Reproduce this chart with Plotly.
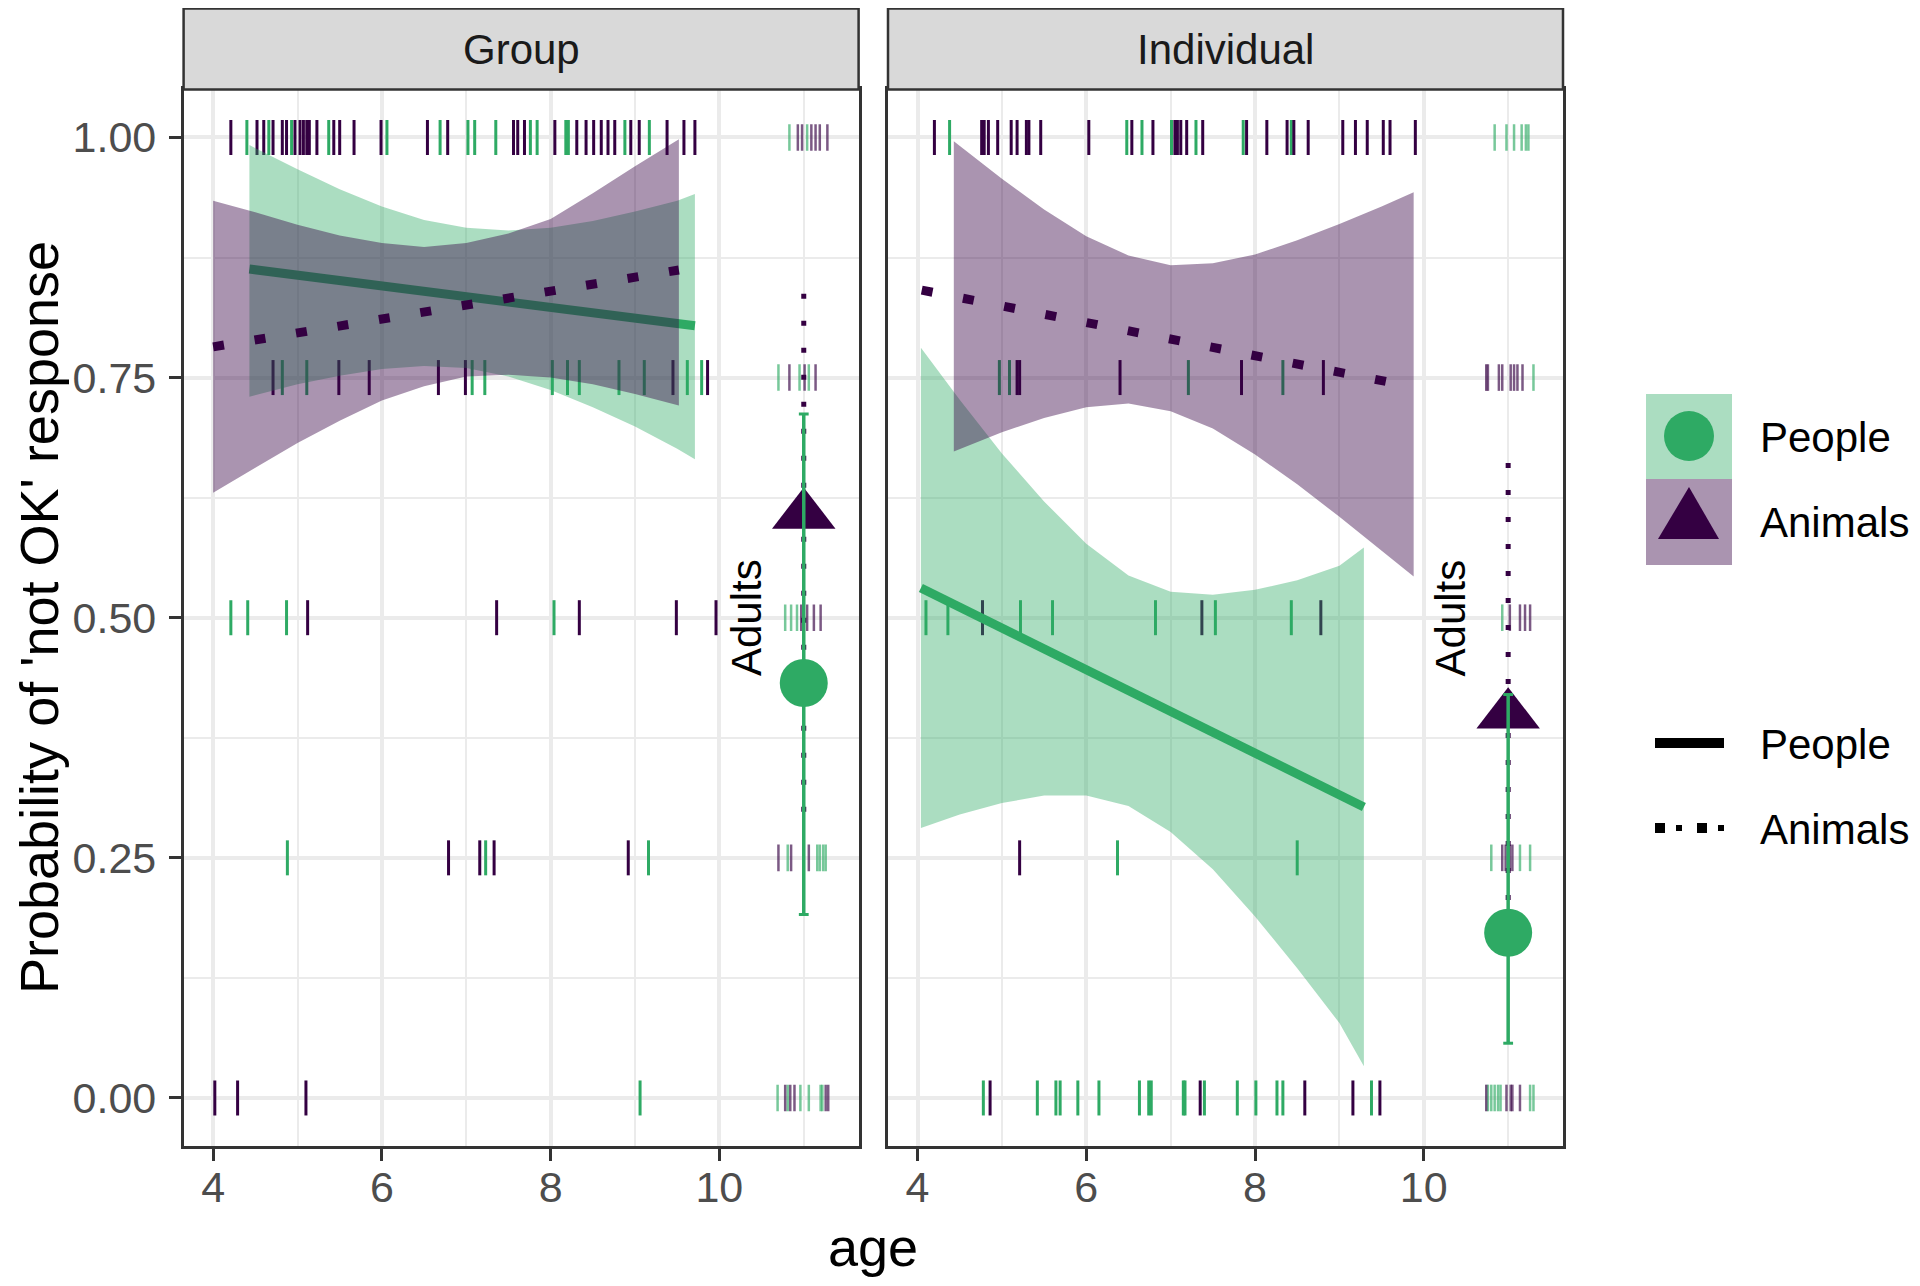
import plotly.graph_objects as go
from plotly.subplots import make_subplots

W, H = 1920, 1286
OFF = 8  # page body margin of the browser
FONT = "Liberation Sans, Arial, Helvetica, sans-serif"
GREEN = "#2EAA64"
PURPLE = "#340042"
GREEN_FILL = "rgba(46,170,100,0.40)"
PURPLE_FILL = "rgba(52,0,66,0.42)"
GREEN_ADULT = "rgba(46,170,100,0.65)"
PURPLE_ADULT = "rgba(52,0,66,0.65)"

panel_names = ["Group", "Individual"]
species_names = ["People", "Animals"]
y_ticks = [0.0, 0.25, 0.5, 0.75, 1.0]
y_labels = ["0.00", "0.25", "0.50", "0.75", "1.00"]
y_minor = [0.125, 0.375, 0.625, 0.875]
x_ticks = [4, 6, 8, 10]
x_minor = [5, 7, 9, 11]

# ---- individual responses (age positions of tick marks, by response level) ----
grp_people_child = {
    1.00: [4.40, 4.66, 4.93, 5.37, 6.06, 6.69, 7.02, 7.10, 7.35, 7.76, 7.84, 8.18, 8.21, 8.88, 9.17],
    0.75: [4.82, 5.11, 7.07, 7.22, 8.02, 8.20, 8.34, 8.81, 9.11, 9.62, 9.79],
    0.50: [4.21, 4.41, 4.87, 8.04],
    0.25: [4.88, 7.23, 9.16],
    0.00: [9.06],
}
grp_animals_child = {
    1.00: [4.21, 4.52, 4.60, 4.71, 4.82, 4.87, 4.97, 5.03, 5.07, 5.11, 5.14, 5.23, 5.43, 5.50, 5.67,
           5.99, 6.54, 6.78, 7.56, 7.61, 7.69, 8.05, 8.31, 8.42, 8.51, 8.60, 8.68, 8.76, 8.95, 9.05,
           9.38, 9.58, 9.71],
    0.75: [4.71, 5.49, 5.85, 6.67, 6.99, 9.45, 9.86],
    0.50: [5.12, 7.36, 8.34, 9.49, 9.96],
    0.25: [6.79, 7.16, 7.33, 8.92],
    0.00: [4.02, 4.29, 5.10],
}
grp_people_adult = {
    1.00: [10.83, 11.04],
    0.75: [10.70, 10.95, 11.06],
    0.50: [10.78, 10.85, 10.92],
    0.25: [10.81, 11.16, 11.19, 11.23, 11.26],
    0.00: [10.69, 10.81, 10.96, 11.06, 11.20, 11.22],
}
grp_animals_adult = {
    1.00: [10.93, 10.98, 11.09, 11.14, 11.19, 11.28],
    0.75: [10.83, 11.01, 11.14],
    0.50: [10.97, 11.04, 11.12, 11.20],
    0.25: [10.70, 10.85, 11.06],
    0.00: [10.78, 10.84, 10.89, 11.26, 11.29],
}
ind_people_child = {
    1.00: [4.38, 6.48, 6.66, 7.01, 7.30, 7.86, 8.43],
    0.75: [4.97, 5.09, 7.21, 8.33],
    0.50: [4.10, 4.36, 5.22, 5.60, 6.82, 7.53, 8.43],
    0.25: [6.37, 8.50],
    0.00: [4.78, 5.42, 5.64, 5.69, 5.90, 6.15, 6.63, 6.74, 6.77, 7.15, 7.17, 7.40, 7.79, 8.01,
           8.26, 8.33, 9.38],
}
ind_animals_child = {
    1.00: [4.20, 4.76, 4.79, 4.84, 4.95, 5.11, 5.18, 5.29, 5.32, 5.46, 6.03, 6.54, 6.79, 7.05,
           7.08, 7.12, 7.19, 7.38, 7.90, 8.14, 8.38, 8.46, 8.63, 9.04, 9.19, 9.33, 9.52, 9.60, 9.90],
    0.75: [5.18, 5.21, 6.40, 7.84, 8.81],
    0.50: [4.77, 7.37, 8.78],
    0.25: [5.21],
    0.00: [4.86, 7.35, 8.59, 9.16, 9.48],
}
ind_people_adult = {
    1.00: [10.84, 10.98, 11.07, 11.16, 11.21, 11.24],
    0.75: [11.30],
    0.50: [10.93],
    0.25: [10.80, 11.14, 11.26],
    0.00: [10.76, 10.80, 10.84, 10.88, 10.91, 11.26, 11.30],
}
ind_animals_adult = {
    0.75: [10.74, 10.76, 10.89, 10.93, 11.03, 11.07, 11.11, 11.17],
    0.50: [11.02, 11.14, 11.20, 11.26],
    0.25: [10.93, 10.97, 11.02, 11.05],
    0.00: [10.74, 10.98, 11.03, 11.05, 11.14],
}

# ---- fitted lines ----
grp_people_fit_x = [4.43, 9.71]
grp_people_fit_y = [0.863, 0.804]
grp_animals_fit_x = [4.00, 9.52]
grp_animals_fit_y = [0.782, 0.862]
ind_people_fit_x = [4.04, 9.29]
ind_people_fit_y = [0.531, 0.303]
ind_animals_fit_x = [4.05, 9.55]
ind_animals_fit_y = [0.841, 0.746]

# ---- confidence bands ----
grp_people_band_x = [4.43, 5.0, 5.5, 6.0, 6.5, 7.0, 7.5, 8.0, 8.5, 9.0, 9.5, 9.71]
grp_people_band_hi = [0.992, 0.967, 0.946, 0.928, 0.914, 0.906, 0.903, 0.906, 0.913, 0.923, 0.934, 0.941]
grp_people_band_lo = [0.730, 0.743, 0.752, 0.759, 0.762, 0.760, 0.751, 0.737, 0.719, 0.699, 0.676, 0.665]

grp_animals_band_x = [4.0, 4.5, 5.0, 5.5, 6.0, 6.5, 7.0, 7.5, 8.0, 8.5, 9.0, 9.52]
grp_animals_band_hi = [0.934, 0.922, 0.909, 0.898, 0.890, 0.886, 0.890, 0.900, 0.915, 0.942, 0.970, 0.998]
grp_animals_band_lo = [0.630, 0.656, 0.682, 0.705, 0.726, 0.741, 0.751, 0.753, 0.750, 0.743, 0.733, 0.721]

ind_people_band_x = [4.04, 4.5, 5.0, 5.5, 6.0, 6.5, 7.0, 7.5, 8.0, 8.5, 9.0, 9.29]
ind_people_band_hi = [0.781, 0.727, 0.671, 0.621, 0.577, 0.544, 0.527, 0.524, 0.529, 0.539, 0.554, 0.573]
ind_people_band_lo = [0.281, 0.295, 0.307, 0.315, 0.315, 0.304, 0.277, 0.238, 0.189, 0.135, 0.078, 0.033]

ind_animals_band_x = [4.43, 5.0, 5.5, 6.0, 6.5, 7.0, 7.5, 8.0, 8.5, 9.0, 9.5, 9.88]
ind_animals_band_hi = [0.996, 0.957, 0.925, 0.897, 0.877, 0.867, 0.869, 0.878, 0.893, 0.910, 0.928, 0.943]
ind_animals_band_lo = [0.673, 0.693, 0.708, 0.719, 0.723, 0.715, 0.697, 0.670, 0.639, 0.605, 0.570, 0.543]

# ---- adult estimates (per panel: Group, Individual) ----
adult_age = 11
adult_label_age = 10.32
adult_people_mean = [0.432, 0.172]
adult_people_lo = [0.191, 0.057]
adult_people_hi = [0.712, 0.420]
adult_animals_mean = [0.607, 0.399]
adult_animals_lo = [0.298, 0.178]
adult_animals_hi = [0.848, 0.670]

fig = make_subplots(rows=1, cols=2, horizontal_spacing=0.02)


def add_ticks(d, color, col, size, width):
    xs, ys = [], []
    for lvl, ages in d.items():
        xs += ages
        ys += [lvl] * len(ages)
    fig.add_trace(go.Scatter(x=xs, y=ys, mode="markers", hoverinfo="skip", showlegend=False,
                             marker=dict(symbol="line-ns-open", size=size, color=color,
                                         line=dict(color=color, width=width))),
                  row=1, col=col)


def add_band(bx, hi, lo, fill, col):
    fig.add_trace(go.Scatter(x=bx + bx[::-1], y=hi + lo[::-1], mode="lines", fill="toself",
                             fillcolor=fill, line=dict(width=0), hoverinfo="skip", showlegend=False),
                  row=1, col=col)


def add_line(lx, ly, color, dash, col):
    fig.add_trace(go.Scatter(x=lx, y=ly, mode="lines", hoverinfo="skip", showlegend=False,
                             line=dict(color=color, width=9, dash=dash)),
                  row=1, col=col)


panel_data = [
    (1, grp_people_child, grp_animals_child, grp_people_adult, grp_animals_adult,
     (grp_people_band_x, grp_people_band_hi, grp_people_band_lo, grp_people_fit_x, grp_people_fit_y),
     (grp_animals_band_x, grp_animals_band_hi, grp_animals_band_lo, grp_animals_fit_x, grp_animals_fit_y)),
    (2, ind_people_child, ind_animals_child, ind_people_adult, ind_animals_adult,
     (ind_people_band_x, ind_people_band_hi, ind_people_band_lo, ind_people_fit_x, ind_people_fit_y),
     (ind_animals_band_x, ind_animals_band_hi, ind_animals_band_lo, ind_animals_fit_x, ind_animals_fit_y)),
]

for col, pc, ac, pa, aa, pfit, afit in panel_data:
    i = col - 1
    add_ticks(pc, GREEN, col, 25, 3)
    add_ticks(ac, PURPLE, col, 25, 3)
    add_ticks(pa, GREEN_ADULT, col, 19, 2.5)
    add_ticks(aa, PURPLE_ADULT, col, 19, 2.5)
    add_band(pfit[0], pfit[1], pfit[2], GREEN_FILL, col)
    add_line(pfit[3], pfit[4], GREEN, "solid", col)
    add_band(afit[0], afit[1], afit[2], PURPLE_FILL, col)
    add_line(afit[3], afit[4], PURPLE, "11px,31px", col)
    # adults: animals dotted bar, triangle, people bar, circle
    fig.add_trace(go.Scatter(x=[adult_age, adult_age], y=[adult_animals_lo[i], adult_animals_hi[i]],
                             mode="lines", line=dict(color=PURPLE, width=5, dash="5px,22px"),
                             hoverinfo="skip", showlegend=False), row=1, col=col)
    fig.add_trace(go.Scatter(x=[adult_age], y=[adult_animals_mean[i]], mode="markers",
                             marker=dict(symbol="triangle-up", size=55, color=PURPLE, line=dict(width=0)),
                             hoverinfo="skip", showlegend=False), row=1, col=col)
    fig.add_trace(go.Scatter(x=[adult_age, adult_age], y=[adult_people_lo[i], adult_people_hi[i]],
                             mode="lines", line=dict(color=GREEN, width=3.5),
                             hoverinfo="skip", showlegend=False), row=1, col=col)
    fig.add_trace(go.Scatter(x=[adult_age, adult_age], y=[adult_people_lo[i], adult_people_hi[i]],
                             mode="markers", marker=dict(symbol="line-ew-open", size=7, color=GREEN,
                                                         line=dict(color=GREEN, width=3)),
                             hoverinfo="skip", showlegend=False), row=1, col=col)
    fig.add_trace(go.Scatter(x=[adult_age], y=[adult_people_mean[i]], mode="markers",
                             marker=dict(symbol="circle", size=48, color=GREEN, line=dict(width=0)),
                             hoverinfo="skip", showlegend=False), row=1, col=col)


def px(x):
    return (x - OFF) / W


def py(y):
    return 1 - (y - OFF) / H


XDOM = [[183.6, 858.6], [888.0, 1563.0]]
YDOM = [89.4, 1146.0]
STRIP = [8.6, 89.4]

axis_common = dict(showline=True, mirror=True, linecolor="#333333", linewidth=2.5,
                   showgrid=True, gridcolor="#EBEBEB", gridwidth=3.5, zeroline=False,
                   ticks="outside", ticklen=12, tickwidth=2.5, tickcolor="#333333",
                   tickfont=dict(family=FONT, size=43, color="#4D4D4D"))

for k, dom in enumerate(XDOM):
    xa = "xaxis" if k == 0 else "xaxis2"
    ya = "yaxis" if k == 0 else "yaxis2"
    fig.update_layout(**{
        xa: dict(axis_common, domain=[px(dom[0]), px(dom[1])], range=[3.65, 11.65],
                 tickmode="array", tickvals=x_ticks, ticktext=[str(v) for v in x_ticks],
                 ticklabelstandoff=-10,
                 minor=dict(tickvals=x_minor, showgrid=True, gridcolor="#EBEBEB", gridwidth=1.8, ticks="")),
        ya: dict(axis_common, domain=[py(YDOM[1]), py(YDOM[0])], range=[-0.05, 1.05],
                 tickmode="array", tickvals=y_ticks, ticktext=y_labels,
                 showticklabels=(k == 0), ticks=("outside" if k == 0 else ""),
                 ticklabelstandoff=4,
                 minor=dict(tickvals=y_minor, showgrid=True, gridcolor="#EBEBEB", gridwidth=1.8, ticks="")),
    })

shapes = []
annotations = []
# strips
for k, dom in enumerate(XDOM):
    shapes.append(dict(type="rect", xref="paper", yref="paper", x0=px(dom[0]), x1=px(dom[1]),
                       y0=py(STRIP[1]), y1=py(STRIP[0]), fillcolor="#D9D9D9",
                       line=dict(color="#333333", width=2.5), layer="above"))
    annotations.append(dict(text=panel_names[k], xref="paper", yref="paper",
                            x=px((dom[0] + dom[1]) / 2), y=py((STRIP[0] + STRIP[1]) / 2),
                            xanchor="center", yanchor="middle", showarrow=False,
                            font=dict(family=FONT, size=42, color="#1A1A1A")))
    annotations.append(dict(text="Adults", xref="x" if k == 0 else "x2", yref="y" if k == 0 else "y2",
                            x=adult_label_age, y=0.5, textangle=-90, showarrow=False,
                            xanchor="center", yanchor="middle",
                            font=dict(family=FONT, size=42, color="black")))

# axis titles
annotations.append(dict(text="age", xref="paper", yref="paper", x=px(873), y=py(1247),
                        xanchor="center", yanchor="middle", showarrow=False,
                        font=dict(family=FONT, size=54, color="black")))
annotations.append(dict(text="Probability of 'not OK' response", xref="paper", yref="paper",
                        x=px(39), y=py(618), textangle=-90, xanchor="center", yanchor="middle",
                        showarrow=False, borderpad=0,
                        font=dict(family=FONT, size=54, color="black")))

# legend: fill + shape keys
key_x0, key_x1 = 1646, 1732
shapes.append(dict(type="rect", xref="paper", yref="paper", x0=px(key_x0), x1=px(key_x1),
                   y0=py(479), y1=py(394), fillcolor=GREEN_FILL, line=dict(width=0)))
shapes.append(dict(type="rect", xref="paper", yref="paper", x0=px(key_x0), x1=px(key_x1),
                   y0=py(565), y1=py(479), fillcolor=PURPLE_FILL, line=dict(width=0)))
shapes.append(dict(type="circle", xref="paper", yref="paper", x0=px(1664), x1=px(1714),
                   y0=py(461), y1=py(411), fillcolor=GREEN, line=dict(width=0)))
tri = "M {:.5f},{:.5f} L {:.5f},{:.5f} L {:.5f},{:.5f} Z".format(
    px(1658), py(539), px(1719), py(539), px(1689), py(487))
shapes.append(dict(type="path", xref="paper", yref="paper", path=tri, fillcolor=PURPLE, line=dict(width=0)))
for txt, yy in [("People", 437), ("Animals", 522)]:
    annotations.append(dict(text=txt, xref="paper", yref="paper", x=px(1758), y=py(yy),
                            xanchor="left", yanchor="middle", showarrow=False,
                            font=dict(family=FONT, size=42, color="black")))

# legend: line keys
shapes.append(dict(type="line", xref="paper", yref="paper", x0=px(1655), x1=px(1724),
                   y0=py(743), y1=py(743), line=dict(color="black", width=10)))
shapes.append(dict(type="line", xref="paper", yref="paper", x0=px(1655), x1=px(1724),
                   y0=py(828), y1=py(828), line=dict(color="black", width=10, dash="10px,32px")))
shapes.append(dict(type="line", xref="paper", yref="paper", x0=px(1655), x1=px(1724),
                   y0=py(828), y1=py(828), line=dict(color="black", width=6, dash="6px,15px")))
for txt, yy in [("People", 744), ("Animals", 829)]:
    annotations.append(dict(text=txt, xref="paper", yref="paper", x=px(1758), y=py(yy),
                            xanchor="left", yanchor="middle", showarrow=False,
                            font=dict(family=FONT, size=42, color="black")))

fig.update_layout(width=W, height=H, margin=dict(l=0, r=0, t=0, b=0),
                  paper_bgcolor="white", plot_bgcolor="white", showlegend=False,
                  shapes=shapes, annotations=annotations, font=dict(family=FONT))

fig.write_html("out.html")
